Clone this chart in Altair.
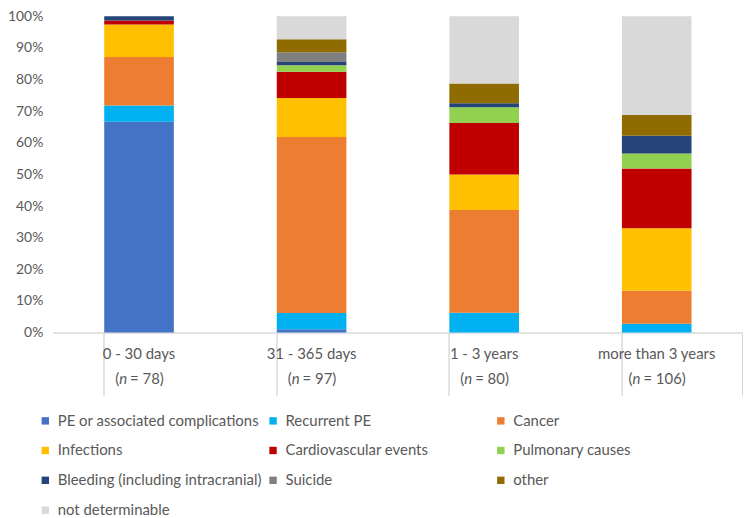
import altair as alt
import pandas as pd

categories = ["0 - 30 days", "31 - 365 days", "1 - 3 years", "more than 3 years"]
n_values = [78, 97, 80, 106]
causes = [
    "PE or associated complications", "Recurrent PE", "Cancer",
    "Infections", "Cardiovascular events", "Pulmonary causes",
    "Bleeding (including intracranial)", "Suicide", "other", "not determinable",
]
colors = ["#4472C4", "#00B0F0", "#ED7D31", "#FFC000", "#C00000", "#92D050",
          "#264478", "#7F7F7F", "#8F6B00", "#D9D9D9"]

# percentage of deaths per cause, one list per time window (order = causes)
pct_0_30 = [66.67, 5.13, 15.38, 10.26, 1.28, 0, 1.28, 0, 0, 0]
pct_31_365 = [1.03, 5.15, 55.67, 12.37, 8.25, 2.06, 1.03, 3.09, 4.12, 7.23]
pct_1_3 = [0, 6.25, 32.5, 11.25, 16.25, 5.0, 1.25, 0, 6.25, 21.25]
pct_gt3 = [0, 2.83, 10.38, 19.81, 18.87, 4.72, 5.66, 0, 6.60, 31.13]
y_ticks = [0, 10, 20, 30, 40, 50, 60, 70, 80, 90, 100]

series = [pct_0_30, pct_31_365, pct_1_3, pct_gt3]
rows = []
for cat, vals in zip(categories, series):
    for i, (cause, v) in enumerate(zip(causes, vals)):
        rows.append({"period": cat, "cause": cause, "idx": i, "pct": v})
df = pd.DataFrame(rows)
lab = pd.DataFrame({"period": categories, "n": [str(v) for v in n_values]})

FONT = "Lato"
GREY_TXT = "#595959"
LINE = "#D9D9D9"
W, H = 694, 318
XFS = 15

xscale = alt.Scale(domain=categories, paddingInner=0.598, paddingOuter=0.299)

bars = alt.Chart(df).mark_bar(size=70).encode(
    x=alt.X("period:N", scale=xscale, sort=categories,
            axis=alt.Axis(title=None, labels=False, bandPosition=0,
                          tickSize=63, tickColor=LINE, tickWidth=1.5,
                          domainColor=LINE, domainWidth=1.5, grid=False)),
    y=alt.Y("pct:Q", stack="zero", scale=alt.Scale(domain=[0, 100], nice=False),
            axis=alt.Axis(title=None, values=y_ticks, labelExpr="datum.value + '%'",
                          domain=False, ticks=False, grid=False, labelPadding=10,
                          labelFont=FONT, labelFontSize=14, labelColor=GREY_TXT)),
    color=alt.Color("cause:N", scale=alt.Scale(domain=causes, range=colors),
                    legend=alt.Legend(title=None, orient="none", legendX=-15, legendY=399,
                                      direction="horizontal", values=causes,
                                      columns=3, symbolType="square", symbolSize=55,
                                      symbolStrokeWidth=0, labelFont=FONT,
                                      labelFontSize=15, labelColor=GREY_TXT,
                                      rowPadding=14, columnPadding=4, gridAlign="all",
                                      labelLimit=300, labelOffset=5)),
    order=alt.Order("idx:Q", sort="ascending"),
)

right_edge = alt.Chart(lab).mark_rule(color=LINE, strokeWidth=1.5).encode(
    x=alt.value(W), y=alt.value(H), y2=alt.value(H + 63)
)

line1 = alt.Chart(lab).mark_text(font=FONT, fontSize=XFS, color=GREY_TXT,
                                 baseline="middle").encode(
    x=alt.X("period:N", scale=xscale, sort=categories),
    y=alt.value(H + 22), text="period:N")

layers = [bars, right_edge, line1]
# second label line "(n = xx)" with an italic n
sc = XFS / 14
w_par, w_n, w_sp, w_eq, w_dig = 4.3 * sc, 7.4 * sc, 2.8 * sc, 8.1 * sc, 8.1 * sc
for cat, nv in zip(categories, n_values):
    k = len(str(nv))
    total = w_par + w_n + w_sp + w_eq + w_sp + k * w_dig + w_par
    start = -total / 2
    sub = lab[lab["period"] == cat]
    base = alt.Chart(sub)
    enc = dict(x=alt.X("period:N", scale=xscale, sort=categories), y=alt.value(H + 47))
    layers.append(base.mark_text(font=FONT, fontSize=XFS, color=GREY_TXT, baseline="middle",
                                 align="right", dx=start + w_par).encode(text=alt.value("("), **enc))
    layers.append(base.mark_text(font=FONT, fontSize=XFS, color=GREY_TXT, baseline="middle",
                                 align="left", fontStyle="italic", dx=start + w_par).encode(
        text=alt.value("n"), **enc))
    layers.append(base.mark_text(font=FONT, fontSize=XFS, color=GREY_TXT, baseline="middle",
                                 align="left", dx=start + w_par + w_n + w_sp).encode(
        text=alt.value("= " + str(nv) + ")"), **enc))

chart = alt.layer(*layers).properties(
    width=W, height=H,
    autosize=alt.AutoSizeParams(type="none"),
    padding={"left": 45, "top": 7, "right": 0, "bottom": 185},
).configure_view(stroke=None)

chart.save("out.html", embed_options={"renderer": "svg", "actions": False})
